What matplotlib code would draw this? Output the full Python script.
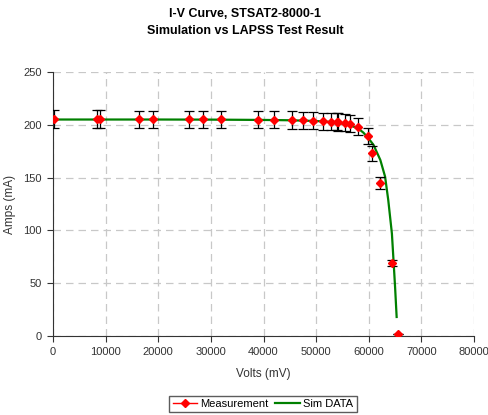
import numpy as np
import matplotlib.pyplot as plt
from matplotlib.lines import Line2D

plt.rcParams['font.family'] = ['Liberation Sans', 'DejaVu Sans']

# measurement (LAPSS test)
meas_v = [200, 8300, 8900, 16400, 19000, 25800, 28500, 32000, 38900, 42000, 45500, 47500,
          49400, 51400, 52900, 53900, 54200, 55400, 56500, 58000, 59900, 60600, 62200, 64400, 65500]
meas_i = [205.5, 205.5, 205.5, 205.3, 205.3, 205.3, 205.2, 205.2, 205.0, 204.8, 204.5, 204.3,
          203.8, 203.3, 203.0, 202.8, 202.6, 202.0, 201.0, 198.2, 189.4, 173.0, 145.0, 69.0, 1.5]
meas_err = [0.04 * i for i in meas_i]

# simulation curve
sim_v = [0, 10000, 20000, 30000, 40000, 45000, 50000, 53000, 55000, 56500, 58000, 59000,
         59900, 60900, 62200, 63100, 63700, 64400, 64700, 65000, 65300]
sim_i = [205.0, 205.0, 205.0, 204.9, 204.6, 204.3, 203.6, 202.6, 201.2, 199.4, 196.5, 192.5,
         187.5, 181.0, 166.7, 151.0, 129.0, 97.0, 72.0, 46.7, 18.0]

fig = plt.figure(figsize=(4.88, 4.15), dpi=100)
ax = fig.add_axes([53 / 488, 1 - 336 / 415, (474 - 53) / 488, (336 - 72) / 415])

ax.plot(sim_v, sim_i, color='#008000', lw=1.6, zorder=2)
ax.errorbar(meas_v, meas_i, yerr=meas_err, fmt='D', color='red', ms=4.5,
            ecolor='black', elinewidth=0.9, capsize=3.5, capthick=0.9, zorder=3)

ax.set_xlim(0, 80000)
ax.set_ylim(0, 250)
ax.set_xticks(np.arange(0, 80001, 10000))
ax.set_yticks(np.arange(0, 251, 50))
ax.grid(True, color='#c8c8c8', linestyle=(0, (6, 4)), lw=0.9)
ax.set_axisbelow(True)
for s in ['top', 'right']:
    ax.spines[s].set_visible(False)
ax.spines['left'].set_color('#333333')
ax.spines['bottom'].set_color('#333333')
ax.tick_params(direction='out', length=4, labelsize=8, colors='#333333', pad=4)

ax.set_xlabel('Volts (mV)', fontsize=8.5, color='#333333', labelpad=8)
ax.set_ylabel('Amps (mA)', fontsize=8.5, color='#333333')
ax.yaxis.set_label_coords(-0.088, 0.5)

fig.text(0.502, 1 - 14 / 415, 'I-V Curve, STSAT2-8000-1', ha='center', va='center',
         fontsize=9, fontweight='bold')
fig.text(0.502, 1 - 31 / 415, 'Simulation vs LAPSS Test Result', ha='center', va='center',
         fontsize=9, fontweight='bold')

handles = [Line2D([0], [0], color='red', marker='D', ms=4.5, lw=1),
           Line2D([0], [0], color='#008000', lw=1.6)]
fig.legend(handles, ['Measurement', 'Sim DATA'], loc='center', bbox_to_anchor=(263 / 488, 1 - 404 / 415),
           ncol=2, fontsize=8, frameon=True, fancybox=False, edgecolor='#333333',
           handlelength=2.2, columnspacing=0.6, handletextpad=0.3, borderpad=0.3)

fig.savefig('out.png', dpi=100)
